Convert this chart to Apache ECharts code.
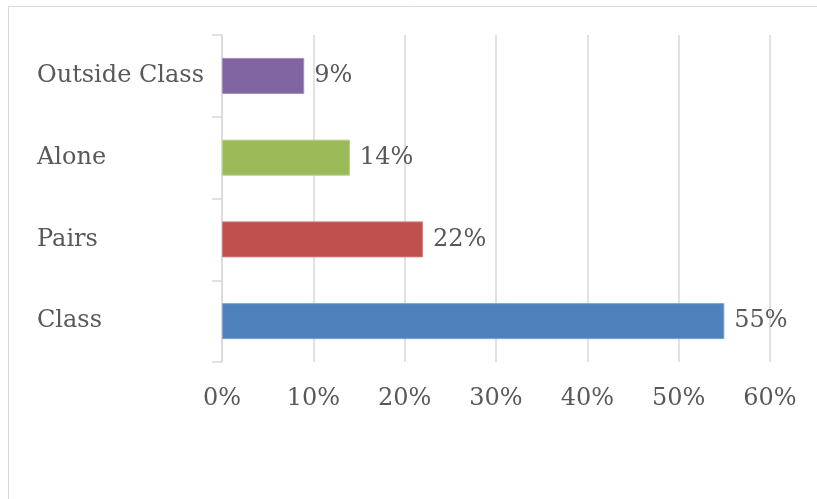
<!DOCTYPE html>
<html>
<head>
<meta charset="utf-8">
<script src="https://cdn.jsdelivr.net/npm/echarts@6/dist/echarts.min.js"></script>
<style>
  html, body { margin: 0; padding: 0; background: #fff; }
  #chart { width: 817px; height: 499px; }
</style>
</head>
<body>
<div id="chart"></div>
<script>
// categories bottom to top, as ECharts stacks a category y axis
const categories = ['Class', 'Pairs', 'Alone', 'Outside Class']
const shares = [55, 22, 14, 9]
const barColors = ['#4f81bd', '#c0504d', '#9bbb59', '#8064a2']
const edgeColors = ['#7ea2d2', '#d27c7a', '#b5cf83', '#a08cbf']

const fontFamily = '"DejaVu Serif", "Liberation Serif", serif'
const textColor = '#595959'
const lineColor = '#d9d9d9'

const chart = echarts.init(document.getElementById('chart'))

const option = {
  animation: false,
  graphic: [
    {
      type: 'rect',
      shape: { x: 8.5, y: 6.5, width: 900, height: 600 },
      style: { fill: 'none', stroke: lineColor, lineWidth: 1 },
      silent: true
    }
  ],
  grid: {
    left: 222,
    right: 47,
    top: 35,
    bottom: 137
  },
  xAxis: {
    type: 'value',
    min: 0,
    max: 60,
    interval: 10,
    axisLine: { show: false },
    axisTick: { show: false },
    splitLine: { lineStyle: { color: lineColor, width: 1.5 } },
    axisLabel: {
      margin: 25,
      color: textColor,
      fontFamily: fontFamily,
      fontSize: 24,
      formatter: '{value}%'
    }
  },
  yAxis: {
    type: 'category',
    data: categories,
    axisLine: { show: true, lineStyle: { color: lineColor, width: 1.5 } },
    axisTick: { show: true, length: 10, lineStyle: { color: lineColor, width: 1.5 } },
    axisLabel: {
      margin: 185,
      align: 'left',
      padding: [5, 0, 0, 0],
      color: textColor,
      fontFamily: fontFamily,
      fontSize: 24
    }
  },
  series: [
    {
      type: 'bar',
      barWidth: 36,
      data: shares.map((v, i) => ({
        value: v,
        itemStyle: { color: barColors[i], borderColor: edgeColors[i], borderWidth: 1 }
      })),
      label: {
        show: true,
        position: 'right',
        distance: 10,
        padding: [5, 0, 0, 0],
        color: textColor,
        fontFamily: fontFamily,
        fontSize: 24,
        formatter: '{c}%'
      }
    }
  ]
}

chart.setOption(option)
</script>
</body>
</html>
